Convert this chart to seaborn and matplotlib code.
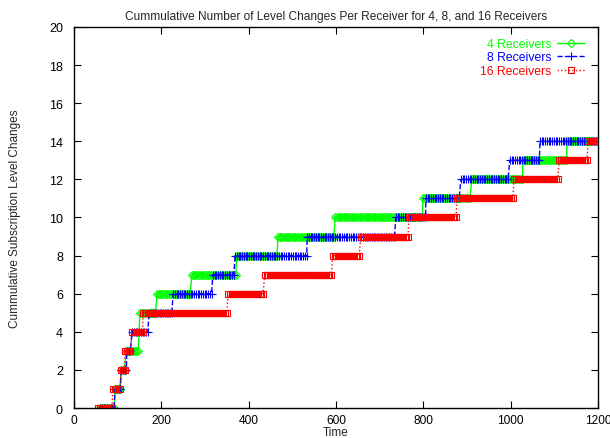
import numpy as np
import pandas as pd
import matplotlib
matplotlib.use("Agg")
import matplotlib.pyplot as plt
from matplotlib.lines import Line2D
import seaborn as sns

# Time at which each cumulative level is first reached, per group size
green_times = [60, 94, 108, 119, 151, 190, 270, 373, 467, 598, 799, 911, 1028, 1129]
green_levels = [0, 1, 2, 3, 5, 6, 7, 8, 9, 10, 11, 12, 13, 14]

blue_times = [60, 94, 108, 121, 133, 172, 227, 318, 369, 534, 737, 806, 886, 998, 1067]
blue_levels = [0, 1, 2, 3, 4, 5, 6, 7, 8, 9, 10, 11, 12, 13, 14]

red_times = [55, 89, 108, 117, 133, 158, 353, 437, 593, 657, 767, 877, 1008, 1111, 1177]
red_levels = [0, 1, 2, 3, 4, 5, 6, 7, 8, 9, 10, 11, 12, 13, 14]

end_time = 1198
sample_step = 4  # receivers log their level every few seconds

series_names = ["4 Receivers", "8 Receivers", "16 Receivers"]
x_ticks = [0, 200, 400, 600, 800, 1000, 1200]
y_ticks = [0, 2, 4, 6, 8, 10, 12, 14, 16, 18, 20]


def sampled(times, levels):
    """Expand level-change times into the periodic samples that were logged."""
    t_all, l_all = [], []
    bounds = list(times) + [end_time + sample_step]
    for i, lvl in enumerate(levels):
        ts = np.arange(bounds[i], bounds[i + 1], sample_step)
        ts = ts[ts <= end_time]
        t_all.extend(ts)
        l_all.extend([lvl] * len(ts))
    return pd.DataFrame({"Time": t_all, "Level": l_all})


sns.set_style("ticks")
plt.rcParams["font.family"] = ["Liberation Sans", "DejaVu Sans"]

fig = plt.figure(figsize=(6.10, 4.39), dpi=100)
ax = fig.add_axes([0.1213, 0.0683, 0.8590, 0.8680])

styles = [
    dict(color="#00ff00", linestyle="-", marker="D", ms=4.2, mfc="none", mew=0.8),
    dict(color="#0000ff", linestyle="--", marker="+", ms=6.0, mew=0.8),
    dict(color="#ff0000", linestyle=":", marker="s", ms=5.0, mfc="none", mew=0.8),
]
data = [(green_times, green_levels), (blue_times, blue_levels), (red_times, red_levels)]

for (times, levels), st in zip(data, styles):
    df = sampled(times, levels)
    sns.lineplot(data=df, x="Time", y="Level", ax=ax, estimator=None,
                 color=st["color"], linestyle=st["linestyle"], lw=1.0,
                 marker=st["marker"], markersize=st["ms"],
                 markerfacecolor=st.get("mfc", st["color"]),
                 markeredgecolor=st["color"], markeredgewidth=st["mew"])

ax.set_xlim(0, 1200)
ax.set_ylim(0, 20)
ax.set_xticks(x_ticks)
ax.set_yticks(y_ticks)
ax.tick_params(direction="in", length=5, width=0.8, top=True, right=True,
               colors="black")
ax.tick_params(axis="y", pad=8, labelsize=9)
ax.tick_params(axis="x", pad=4, labelsize=8.6)
for sp in ax.spines.values():
    sp.set_visible(True)
    sp.set_linewidth(1.0)
    sp.set_color("black")

ax.set_xlabel("Time", fontsize=8.5, labelpad=0)
ax.set_ylabel("Cummulative Subscription Level Changes", fontsize=8.5, labelpad=20)
ax.set_title("Cummulative Number of Level Changes Per Receiver for 4, 8, and 16 Receivers",
             fontsize=8.6, pad=6)

handles = [Line2D([0], [0], color=st["color"], linestyle=st["linestyle"], lw=1.0,
                  marker=st["marker"], markersize=st["ms"],
                  markerfacecolor=st.get("mfc", st["color"]),
                  markeredgecolor=st["color"], markeredgewidth=st["mew"])
           for st in styles]
leg = ax.legend(handles, series_names, loc="upper right", frameon=False,
                markerfirst=False, fontsize=8.8, handlelength=2.3, handletextpad=0.5,
                handleheight=0.5, labelspacing=0.12, borderaxespad=0.0,
                bbox_to_anchor=(0.985, 0.985))
for txt, st in zip(leg.get_texts(), styles):
    txt.set_color(st["color"])
    txt.set_ha("right")

fig.savefig("out.png", dpi=100)
